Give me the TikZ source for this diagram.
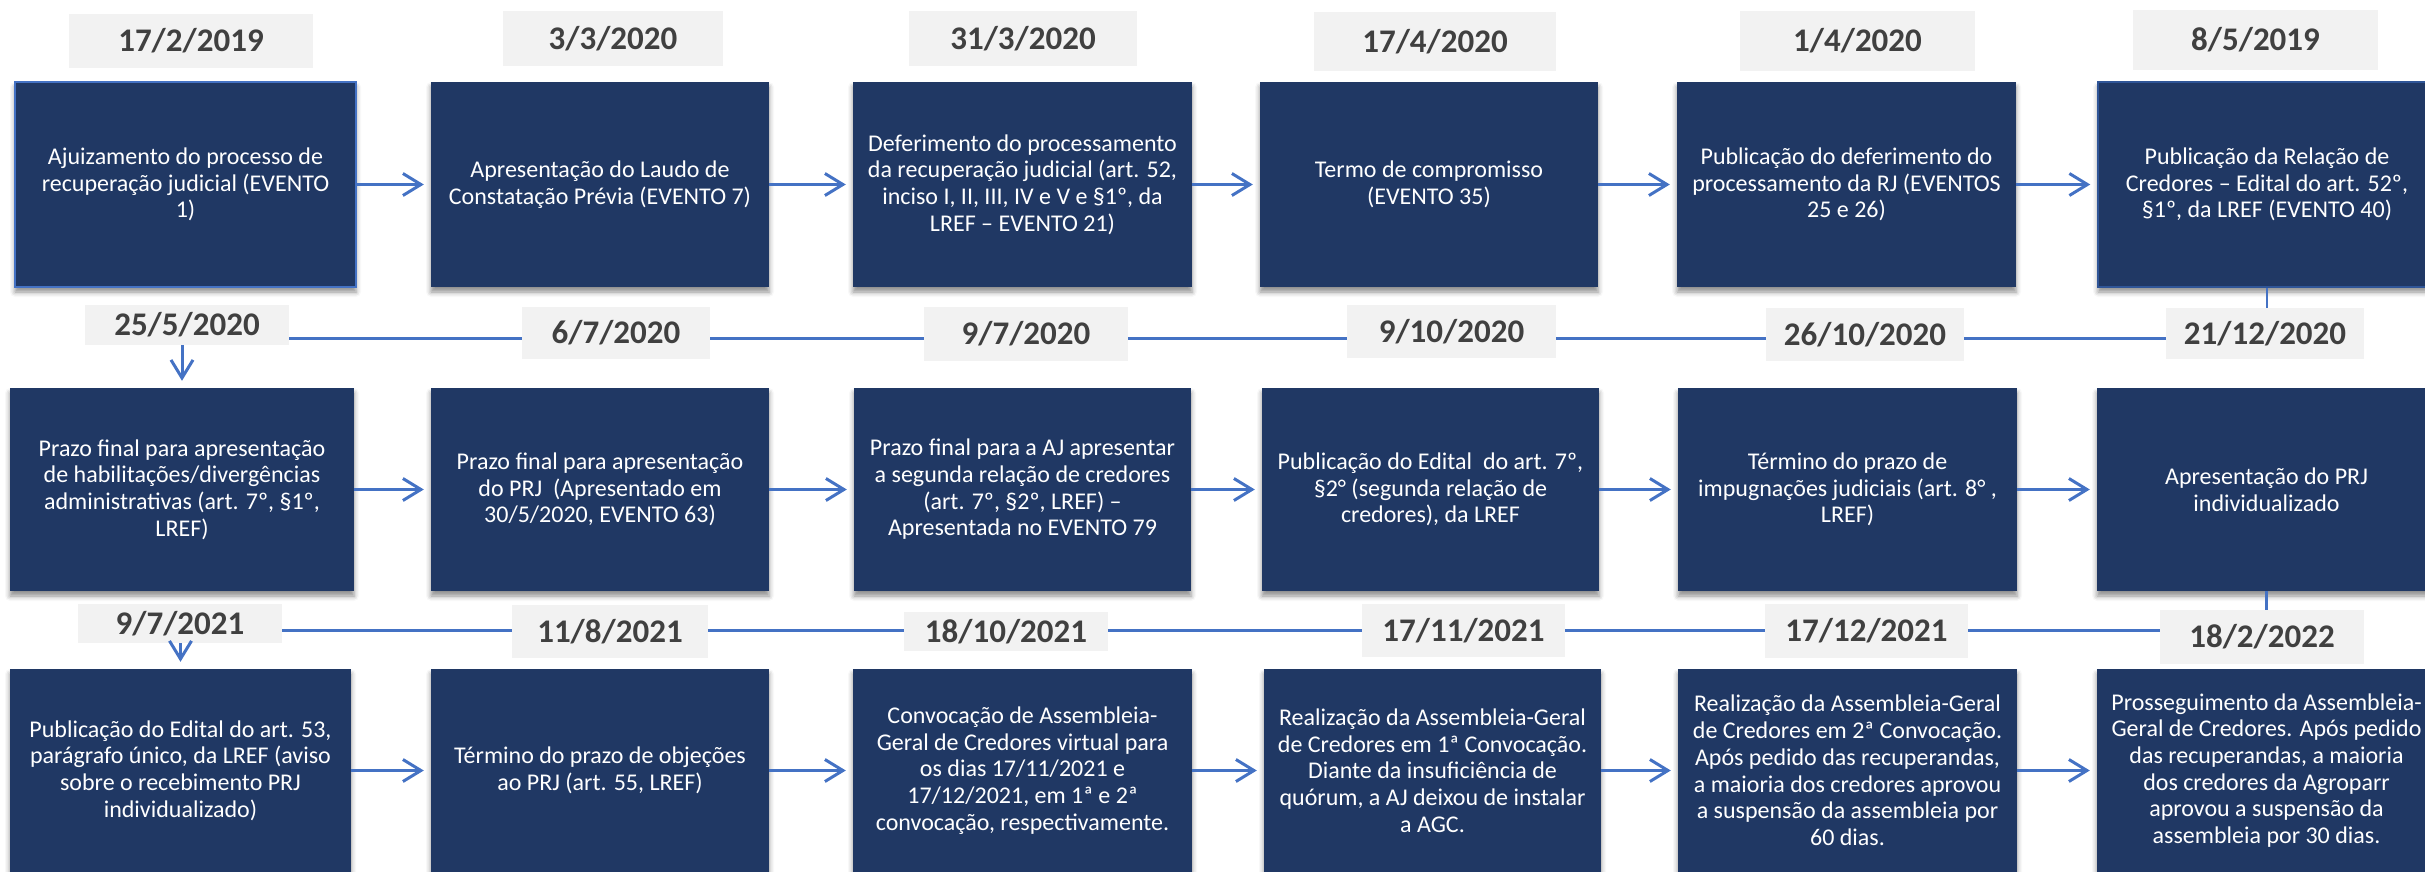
\documentclass[tikz,border=0pt]{standalone}
\usepackage{fontspec}
\setmainfont{Carlito}
\usetikzlibrary{arrows.meta,shadows.blur}
\definecolor{boxblue}{HTML}{203864}
\definecolor{lineblue}{HTML}{4472C4}
\definecolor{edgeblue}{HTML}{2F5597}
\definecolor{dategray}{HTML}{F2F2F2}
\definecolor{datetext}{HTML}{404040}
\tikzset{
  evbox/.style={fill=boxblue, text=white, align=center, inner sep=0pt,
    font=\fontsize{24}{26.7}\selectfont,
    blur shadow={shadow xshift=0pt, shadow yshift=-5pt, shadow blur radius=5pt, shadow opacity=45}},
  datebox/.style={fill=dategray, text=datetext, inner sep=0pt,
    font=\fontsize{33}{36}\selectfont\bfseries},
  flow/.style={draw=lineblue, line width=3pt, shorten >=7pt,
    -{Straight Barb[length=18pt,width=22pt]}},
  tline/.style={draw=lineblue, line width=3pt},
  vline/.style={draw=lineblue, line width=2.5pt},
}
\begin{document}
\begin{tikzpicture}[x=1pt,y=-1pt]
\path[use as bounding box, clip] (0,0) rectangle (2425,872);
\coordinate (L2) at (0,338);
\coordinate (L3) at (0,630);

% ---------- row 1 ----------
\node[evbox, minimum width=341pt, minimum height=205pt, draw=lineblue, line width=2pt] (b11) at (185.5,184.5)
  {Ajuizamento do processo de\\recuperação judicial (EVENTO\\1)};
\node[evbox, minimum width=338pt, minimum height=205pt] (b12) at (600,184.5)
  {Apresentação do Laudo de\\Constatação Prévia (EVENTO 7)};
\node[evbox, minimum width=339pt, minimum height=205pt] (b13) at (1022.5,184.5)
  {Deferimento do processamento\\da recuperação judicial (art. 52,\\inciso I, II, III, IV e V e §1º, da\\LREF – EVENTO 21)};
\node[evbox, minimum width=338pt, minimum height=205pt] (b14) at (1429,184.5)
  {Termo de compromisso\\(EVENTO 35)};
\node[evbox, minimum width=339pt, minimum height=205pt] (b15) at (1846.5,184.5)
  {Publicação do deferimento do\\processamento da RJ (EVENTOS\\25 e 26)};
\node[evbox, minimum width=338pt, minimum height=205pt, draw=edgeblue, line width=1.5pt] (b16) at (2267,184.5)
  {Publicação da Relação de\\Credores – Edital do art. 52º,\\§1º, da LREF (EVENTO 40)};

\node[datebox, minimum width=244pt, minimum height=54pt] (d11) at (191,41) {17/2/2019};
\node[datebox, minimum width=220pt, minimum height=55pt] (d12) at (613,38.5) {3/3/2020};
\node[datebox, minimum width=228pt, minimum height=55pt] (d13) at (1023,38.5) {31/3/2020};
\node[datebox, minimum width=242pt, minimum height=59pt] (d14) at (1435,41.5) {17/4/2020};
\node[datebox, minimum width=235pt, minimum height=60pt] (d15) at (1857.5,41) {1/4/2020};
\node[datebox, minimum width=245pt, minimum height=60pt] (d16) at (2255.5,40) {8/5/2019};

\draw[flow] (b11) -- (b12);
\draw[flow] (b12) -- (b13);
\draw[flow] (b13) -- (b14);
\draw[flow] (b14) -- (b15);
\draw[flow] (b15) -- (b16);

% ---------- row 2 ----------
\node[evbox, minimum width=344pt, minimum height=203pt] (b21) at (182,489.5)
  {Prazo final para apresentação\\de habilitações/divergências\\administrativas (art. 7º, §1º,\\LREF)};
\node[evbox, minimum width=338pt, minimum height=203pt] (b22) at (600,489.5)
  {Prazo final para apresentação\\do PRJ~ (Apresentado em\\30/5/2020, EVENTO 63)};
\node[evbox, minimum width=337pt, minimum height=203pt] (b23) at (1022.5,489.5)
  {Prazo final para a AJ apresentar\\a segunda relação de credores\\(art. 7º, §2º, LREF) –\\Apresentada no EVENTO 79};
\node[evbox, minimum width=337pt, minimum height=203pt] (b24) at (1430.5,489.5)
  {Publicação do Edital~ do art. 7º,\\§2° (segunda relação de\\credores), da LREF};
\node[evbox, minimum width=339pt, minimum height=203pt] (b25) at (1847.5,489.5)
  {Término do prazo de\\impugnações judiciais (art. 8° ,\\LREF)};
\node[evbox, minimum width=339pt, minimum height=203pt] (b26) at (2266.5,489.5)
  {Apresentação do PRJ\\individualizado};

\node[datebox, minimum width=204pt, minimum height=40pt] (d21) at (187,325) {25/5/2020};
\node[datebox, minimum width=188pt, minimum height=52pt] (d22) at (616,333) {6/7/2020};
\node[datebox, minimum width=204pt, minimum height=54pt] (d23) at (1026,334) {9/7/2020};
\node[datebox, minimum width=209pt, minimum height=53pt] (d24) at (1451.5,331.5) {9/10/2020};
\node[datebox, minimum width=198pt, minimum height=53pt] (d25) at (1865,334.5) {26/10/2020};
\node[datebox, minimum width=198pt, minimum height=51pt] (d26) at (2265,333.5) {21/12/2020};

\draw[tline] (d21.east |- L2) -- (d22.west |- L2);
\draw[tline] (d22.east |- L2) -- (d23.west |- L2);
\draw[tline] (d23.east |- L2) -- (d24.west |- L2);
\draw[tline] (d24.east |- L2) -- (d25.west |- L2);
\draw[tline] (d25.east |- L2) -- (d26.west |- L2);
\draw[vline] (b16.south) -- (b16.south |- d26.north);
\draw[flow] (d21.south -| b21) -- (b21.north);

\draw[flow] (b21) -- (b22);
\draw[flow] (b22) -- (b23);
\draw[flow] (b23) -- (b24);
\draw[flow] (b24) -- (b25);
\draw[flow] (b25) -- (b26);

% ---------- row 3 ----------
\node[evbox, minimum width=341pt, minimum height=203pt] (b31) at (180.5,770.5)
  {Publicação do Edital do art. 53,\\parágrafo único, da LREF (aviso\\sobre o recebimento PRJ\\individualizado)};
\node[evbox, minimum width=338pt, minimum height=203pt] (b32) at (600,770.5)
  {Término do prazo de objeções\\ao PRJ (art. 55, LREF)};
\node[evbox, minimum width=339pt, minimum height=203pt] (b33) at (1022.5,770.5)
  {Convocação de Assembleia-\\Geral de Credores virtual para\\os dias 17/11/2021 e\\17/12/2021, em 1ª e 2ª\\convocação, respectivamente.};
\node[evbox, minimum width=337pt, minimum height=203pt] (b34) at (1432.5,770.5)
  {Realização da Assembleia-Geral\\de Credores em 1ª Convocação.\\Diante da insuficiência de\\quórum, a AJ deixou de instalar\\a AGC.};
\node[evbox, minimum width=339pt, minimum height=203pt] (b35) at (1847.5,770.5)
  {Realização da Assembleia-Geral\\de Credores em 2ª Convocação.\\Após pedido das recuperandas,\\a maioria dos credores aprovou\\a suspensão da assembleia por\\60 dias.};
\node[evbox, minimum width=339pt, minimum height=203pt] (b36) at (2266.5,770.5)
  {Prosseguimento da Assembleia-\\Geral de Credores. Após pedido\\das recuperandas, a maioria\\dos credores da Agroparr\\aprovou a suspensão da\\assembleia por 30 dias.};

\node[datebox, minimum width=204pt, minimum height=39pt] (d31) at (180,623.5) {9/7/2021};
\node[datebox, minimum width=196pt, minimum height=53pt] (d32) at (610,631.5) {11/8/2021};
\node[datebox, minimum width=204pt, minimum height=39pt] (d33) at (1006,631.5) {18/10/2021};
\node[datebox, minimum width=203pt, minimum height=53pt] (d34) at (1463.5,630.5) {17/11/2021};
\node[datebox, minimum width=203pt, minimum height=54pt] (d35) at (1866.5,631) {17/12/2021};
\node[datebox, minimum width=204pt, minimum height=54pt] (d36) at (2262,637) {18/2/2022};

\draw[tline] (d31.east |- L3) -- (d32.west |- L3);
\draw[tline] (d32.east |- L3) -- (d33.west |- L3);
\draw[tline] (d33.east |- L3) -- (d34.west |- L3);
\draw[tline] (d34.east |- L3) -- (d35.west |- L3);
\draw[tline] (d35.east |- L3) -- (d36.west |- L3);
\draw[vline] (b26.south) -- (b26.south |- d36.north);
\draw[flow] (d31.south -| b31) -- (b31.north);

\draw[flow] (b31) -- (b32);
\draw[flow] (b32) -- (b33);
\draw[flow] (b33) -- (b34);
\draw[flow] (b34) -- (b35);
\draw[flow] (b35) -- (b36);
\end{tikzpicture}
\end{document}
